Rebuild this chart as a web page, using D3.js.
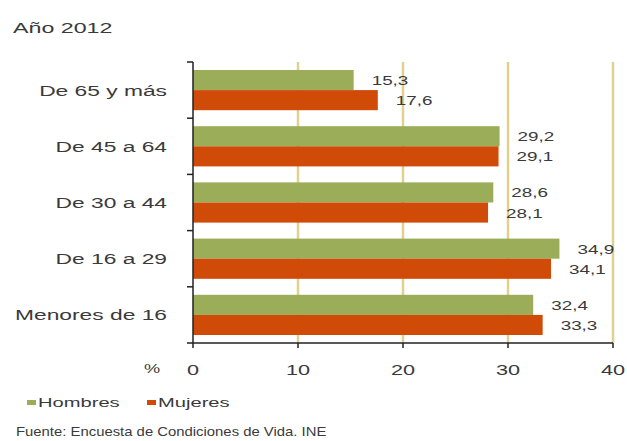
<!DOCTYPE html>
<html><head><meta charset="utf-8">
<script src="https://cdn.jsdelivr.net/npm/d3@7"></script>
<style>body{margin:0;background:#fff}svg{display:block}</style>
</head><body>
<svg id="c" width="627" height="441"></svg>
<script>
const categories = ["De 65 y más","De 45 a 64","De 30 a 44","De 16 a 29","Menores de 16"];
const seriesNames = ["Hombres","Mujeres"];
const hombres = [15.3, 29.2, 28.6, 34.9, 32.4];
const mujeres = [17.6, 29.1, 28.1, 34.1, 33.3];
const xTicks = [0,10,20,30,40];
const title = "Año 2012";
const source = "Fuente: Encuesta de Condiciones de Vida. INE";
const colors = {Hombres:"#9bad58", Mujeres:"#d04a08"};

const svg = d3.select("#c");
const FONT = "Liberation Sans, Arial, sans-serif";
const TXT = "#3a3a3a";
const SX = 1.52;
const fmt = v => d3.format(".1f")(v).replace(".", ",");

const x = d3.scaleLinear().domain([0,40]).range([193,613]);
const y = d3.scaleBand().domain(categories).range([62,343]).padding(0);
const sub = d3.scaleBand().domain(seriesNames).range([8, y.bandwidth()-8]).padding(0);

function stext(g, str, px, py, size, anchor, sx){
  return g.append("text").attr("transform",`translate(${px},${py}) scale(${sx||SX},1)`)
    .attr("text-anchor",anchor||"start").attr("font-family",FONT).attr("font-size",size)
    .attr("fill",TXT).text(str);
}

// gridlines
svg.append("g").selectAll("line").data(xTicks.filter(d=>d>0)).join("line")
  .attr("x1",d=>x(d)).attr("x2",d=>x(d)).attr("y1",y.range()[0]).attr("y2",y.range()[1])
  .attr("stroke","#e2d18e").attr("stroke-width",2.5);

// bars
const rows = categories.map((c,i)=>({c, vals:[{s:"Hombres",v:hombres[i]},{s:"Mujeres",v:mujeres[i]}]}));
const gr = svg.append("g").selectAll("g").data(rows).join("g")
  .attr("transform",d=>`translate(0,${y(d.c)})`);
gr.selectAll("rect").data(d=>d.vals).join("rect")
  .attr("x",x(0)).attr("y",d=>sub(d.s)).attr("width",d=>x(d.v)-x(0)).attr("height",sub.bandwidth())
  .attr("fill",d=>colors[d.s]);
gr.each(function(d){
  const g=d3.select(this);
  d.vals.forEach(e=>{
    stext(g, fmt(e.v), x(e.v)+18, sub(e.s)+sub.bandwidth()/2+5, 13, "start", 1.45);
  });
});

// y axis
const ya = svg.append("g").attr("stroke","#222").attr("stroke-width",1.5);
ya.append("line").attr("x1",x(0)).attr("x2",x(0)).attr("y1",y.range()[0]).attr("y2",y.range()[1]);
const bounds = categories.map(c=>y(c)).concat([y.range()[1]]);
ya.selectAll("line.t").data(bounds).join("line").attr("class","t")
  .attr("x1",x(0)-6).attr("x2",x(0)).attr("y1",d=>d).attr("y2",d=>d);
categories.forEach(c=>stext(svg, c, 167, y(c)+y.bandwidth()/2+5.5, 15, "end"));

// x axis
const xa = svg.append("g").attr("stroke","#222").attr("stroke-width",1.5);
xa.append("line").attr("x1",x(0)).attr("x2",x(40)).attr("y1",y.range()[1]).attr("y2",y.range()[1]);
xa.selectAll("line.t").data(xTicks).join("line").attr("class","t")
  .attr("x1",d=>x(d)).attr("x2",d=>x(d)).attr("y1",y.range()[1]).attr("y2",y.range()[1]+5);
xTicks.forEach(t=>stext(svg, String(t), x(t), 375, 14, "middle", 1.55));
stext(svg, "%", 152, 373, 13, "middle", 1.4);

// title
stext(svg, title, 13, 33, 15, "start", 1.55);

// legend
const lg = [{s:"Hombres",x:27},{s:"Mujeres",x:147}];
lg.forEach(l=>{
  svg.append("rect").attr("x",l.x).attr("y",400).attr("width",9).attr("height",5).attr("fill",colors[l.s]);
  stext(svg, l.s, l.x+11, 407, 13, "start", 1.55);
});

// source
stext(svg, source, 16, 436, 12, "start", 1.24);
</script>
</body></html>
